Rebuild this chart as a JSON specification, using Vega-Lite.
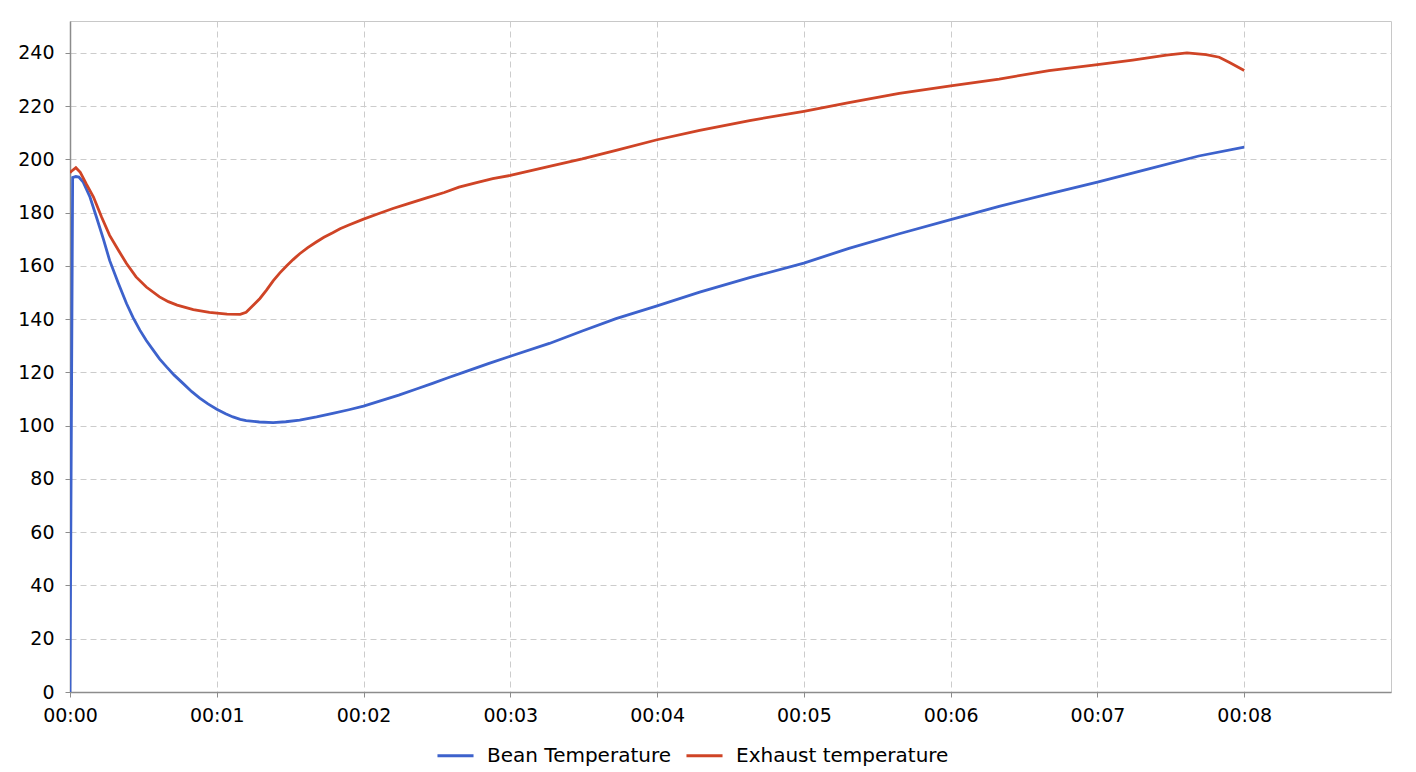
{
  "$schema": "https://vega.github.io/schema/vega-lite/v6.json",
  "autosize": {"type": "none"},
  "padding": {"left": 70, "top": 21, "right": 25, "bottom": 80},
  "width": 1321,
  "height": 671,
  "background": "white",
  "config": {
    "font": "DejaVu Sans",
    "view": {"stroke": "#c8c8c8", "strokeWidth": 1},
    "axis": {
      "labelFont": "DejaVu Sans",
      "labelFontSize": 19,
      "labelColor": "#000000",
      "domainColor": "#8c8c8c",
      "domainWidth": 1.5,
      "tickColor": "#8c8c8c",
      "tickSize": 5,
      "gridColor": "#cccccc",
      "gridDash": [6, 4],
      "gridWidth": 1,
      "title": null
    },
    "legend": {
      "labelFont": "DejaVu Sans",
      "labelFontSize": 20,
      "labelColor": "#000000",
      "labelLimit": 400
    }
  },
  "data": {
    "values": [
      {"t": 0, "v": 0, "s": "Bean Temperature"},
      {"t": 0.018, "v": 193.2, "s": "Bean Temperature"},
      {"t": 0.04, "v": 193.6, "s": "Bean Temperature"},
      {"t": 0.06, "v": 193.4, "s": "Bean Temperature"},
      {"t": 0.09, "v": 191.5, "s": "Bean Temperature"},
      {"t": 0.136, "v": 185.9, "s": "Bean Temperature"},
      {"t": 0.18, "v": 178.4, "s": "Bean Temperature"},
      {"t": 0.227, "v": 170.2, "s": "Bean Temperature"},
      {"t": 0.27, "v": 162.1, "s": "Bean Temperature"},
      {"t": 0.33, "v": 153.4, "s": "Bean Temperature"},
      {"t": 0.385, "v": 145.9, "s": "Bean Temperature"},
      {"t": 0.43, "v": 140.6, "s": "Bean Temperature"},
      {"t": 0.476, "v": 135.9, "s": "Bean Temperature"},
      {"t": 0.52, "v": 132.0, "s": "Bean Temperature"},
      {"t": 0.567, "v": 128.4, "s": "Bean Temperature"},
      {"t": 0.61, "v": 125.1, "s": "Bean Temperature"},
      {"t": 0.658, "v": 122.1, "s": "Bean Temperature"},
      {"t": 0.71, "v": 119.0, "s": "Bean Temperature"},
      {"t": 0.77, "v": 115.9, "s": "Bean Temperature"},
      {"t": 0.83, "v": 112.8, "s": "Bean Temperature"},
      {"t": 0.884, "v": 110.4, "s": "Bean Temperature"},
      {"t": 0.94, "v": 108.2, "s": "Bean Temperature"},
      {"t": 1.0, "v": 106.2, "s": "Bean Temperature"},
      {"t": 1.06, "v": 104.5, "s": "Bean Temperature"},
      {"t": 1.11, "v": 103.3, "s": "Bean Temperature"},
      {"t": 1.16, "v": 102.4, "s": "Bean Temperature"},
      {"t": 1.2, "v": 101.9, "s": "Bean Temperature"},
      {"t": 1.29, "v": 101.4, "s": "Bean Temperature"},
      {"t": 1.384, "v": 101.2, "s": "Bean Temperature"},
      {"t": 1.47, "v": 101.5, "s": "Bean Temperature"},
      {"t": 1.565, "v": 102.1, "s": "Bean Temperature"},
      {"t": 1.68, "v": 103.3, "s": "Bean Temperature"},
      {"t": 1.79, "v": 104.6, "s": "Bean Temperature"},
      {"t": 1.9, "v": 106.0, "s": "Bean Temperature"},
      {"t": 2.0, "v": 107.4, "s": "Bean Temperature"},
      {"t": 2.12, "v": 109.4, "s": "Bean Temperature"},
      {"t": 2.24, "v": 111.5, "s": "Bean Temperature"},
      {"t": 2.36, "v": 113.8, "s": "Bean Temperature"},
      {"t": 2.47, "v": 115.9, "s": "Bean Temperature"},
      {"t": 2.58, "v": 118.1, "s": "Bean Temperature"},
      {"t": 2.69, "v": 120.2, "s": "Bean Temperature"},
      {"t": 2.85, "v": 123.3, "s": "Bean Temperature"},
      {"t": 3.0, "v": 126.1, "s": "Bean Temperature"},
      {"t": 3.266, "v": 130.9, "s": "Bean Temperature"},
      {"t": 3.49, "v": 135.6, "s": "Bean Temperature"},
      {"t": 3.72, "v": 140.2, "s": "Bean Temperature"},
      {"t": 4.0, "v": 145.0, "s": "Bean Temperature"},
      {"t": 4.29, "v": 150.2, "s": "Bean Temperature"},
      {"t": 4.63, "v": 155.6, "s": "Bean Temperature"},
      {"t": 5.0, "v": 161.1, "s": "Bean Temperature"},
      {"t": 5.307, "v": 166.6, "s": "Bean Temperature"},
      {"t": 5.65, "v": 172.1, "s": "Bean Temperature"},
      {"t": 6.0, "v": 177.4, "s": "Bean Temperature"},
      {"t": 6.33, "v": 182.4, "s": "Bean Temperature"},
      {"t": 6.67, "v": 187.1, "s": "Bean Temperature"},
      {"t": 7.0, "v": 191.5, "s": "Bean Temperature"},
      {"t": 7.35, "v": 196.5, "s": "Bean Temperature"},
      {"t": 7.69, "v": 201.3, "s": "Bean Temperature"},
      {"t": 8.0, "v": 204.6, "s": "Bean Temperature"},
      {"t": 0, "v": 195.0, "s": "Exhaust temperature"},
      {"t": 0.01, "v": 195.6, "s": "Exhaust temperature"},
      {"t": 0.04, "v": 196.9, "s": "Exhaust temperature"},
      {"t": 0.07, "v": 195.2, "s": "Exhaust temperature"},
      {"t": 0.11, "v": 190.9, "s": "Exhaust temperature"},
      {"t": 0.16, "v": 185.9, "s": "Exhaust temperature"},
      {"t": 0.215, "v": 178.4, "s": "Exhaust temperature"},
      {"t": 0.27, "v": 171.5, "s": "Exhaust temperature"},
      {"t": 0.33, "v": 165.9, "s": "Exhaust temperature"},
      {"t": 0.385, "v": 160.9, "s": "Exhaust temperature"},
      {"t": 0.45, "v": 155.9, "s": "Exhaust temperature"},
      {"t": 0.52, "v": 152.1, "s": "Exhaust temperature"},
      {"t": 0.61, "v": 148.4, "s": "Exhaust temperature"},
      {"t": 0.67, "v": 146.6, "s": "Exhaust temperature"},
      {"t": 0.73, "v": 145.3, "s": "Exhaust temperature"},
      {"t": 0.84, "v": 143.6, "s": "Exhaust temperature"},
      {"t": 0.95, "v": 142.6, "s": "Exhaust temperature"},
      {"t": 1.07, "v": 141.9, "s": "Exhaust temperature"},
      {"t": 1.16, "v": 141.8, "s": "Exhaust temperature"},
      {"t": 1.2, "v": 142.6, "s": "Exhaust temperature"},
      {"t": 1.226, "v": 144.0, "s": "Exhaust temperature"},
      {"t": 1.294, "v": 147.8, "s": "Exhaust temperature"},
      {"t": 1.34, "v": 151.0, "s": "Exhaust temperature"},
      {"t": 1.384, "v": 154.4, "s": "Exhaust temperature"},
      {"t": 1.43, "v": 157.4, "s": "Exhaust temperature"},
      {"t": 1.475, "v": 160.0, "s": "Exhaust temperature"},
      {"t": 1.52, "v": 162.4, "s": "Exhaust temperature"},
      {"t": 1.565, "v": 164.6, "s": "Exhaust temperature"},
      {"t": 1.62, "v": 166.9, "s": "Exhaust temperature"},
      {"t": 1.678, "v": 169.0, "s": "Exhaust temperature"},
      {"t": 1.73, "v": 170.8, "s": "Exhaust temperature"},
      {"t": 1.79, "v": 172.5, "s": "Exhaust temperature"},
      {"t": 1.84, "v": 174.0, "s": "Exhaust temperature"},
      {"t": 1.9, "v": 175.4, "s": "Exhaust temperature"},
      {"t": 2.0, "v": 177.6, "s": "Exhaust temperature"},
      {"t": 2.1, "v": 179.6, "s": "Exhaust temperature"},
      {"t": 2.2, "v": 181.6, "s": "Exhaust temperature"},
      {"t": 2.3, "v": 183.3, "s": "Exhaust temperature"},
      {"t": 2.43, "v": 185.6, "s": "Exhaust temperature"},
      {"t": 2.55, "v": 187.6, "s": "Exhaust temperature"},
      {"t": 2.65, "v": 189.6, "s": "Exhaust temperature"},
      {"t": 2.77, "v": 191.3, "s": "Exhaust temperature"},
      {"t": 2.88, "v": 192.8, "s": "Exhaust temperature"},
      {"t": 3.0, "v": 194.0, "s": "Exhaust temperature"},
      {"t": 3.266, "v": 197.4, "s": "Exhaust temperature"},
      {"t": 3.49, "v": 200.2, "s": "Exhaust temperature"},
      {"t": 3.72, "v": 203.4, "s": "Exhaust temperature"},
      {"t": 4.0, "v": 207.4, "s": "Exhaust temperature"},
      {"t": 4.29, "v": 210.9, "s": "Exhaust temperature"},
      {"t": 4.63, "v": 214.6, "s": "Exhaust temperature"},
      {"t": 5.0, "v": 218.1, "s": "Exhaust temperature"},
      {"t": 5.307, "v": 221.3, "s": "Exhaust temperature"},
      {"t": 5.65, "v": 224.8, "s": "Exhaust temperature"},
      {"t": 6.0, "v": 227.6, "s": "Exhaust temperature"},
      {"t": 6.33, "v": 230.2, "s": "Exhaust temperature"},
      {"t": 6.67, "v": 233.4, "s": "Exhaust temperature"},
      {"t": 7.0, "v": 235.6, "s": "Exhaust temperature"},
      {"t": 7.24, "v": 237.3, "s": "Exhaust temperature"},
      {"t": 7.47, "v": 239.2, "s": "Exhaust temperature"},
      {"t": 7.61, "v": 240.0, "s": "Exhaust temperature"},
      {"t": 7.74, "v": 239.4, "s": "Exhaust temperature"},
      {"t": 7.83, "v": 238.4, "s": "Exhaust temperature"},
      {"t": 7.9, "v": 236.4, "s": "Exhaust temperature"},
      {"t": 8.0, "v": 233.4, "s": "Exhaust temperature"}
    ]
  },
  "mark": {"type": "line", "strokeWidth": 2.8, "clip": true},
  "encoding": {
    "x": {
      "field": "t",
      "type": "quantitative",
      "scale": {"domain": [0, 9], "nice": false, "zero": false},
      "axis": {
        "values": [0, 1, 2, 3, 4, 5, 6, 7, 8],
        "labelExpr": "'00:0' + datum.value",
        "labelPadding": 9,
        "labelFlush": false
      }
    },
    "y": {
      "field": "v",
      "type": "quantitative",
      "scale": {"domain": [0, 252], "nice": false},
      "axis": {
        "values": [0, 20, 40, 60, 80, 100, 120, 140, 160, 180, 200, 220, 240],
        "labelPadding": 11
      }
    },
    "color": {
      "field": "s",
      "type": "nominal",
      "scale": {
        "domain": ["Bean Temperature", "Exhaust temperature"],
        "range": ["#3d62cc", "#cf4426"]
      },
      "legend": {
        "title": null,
        "orient": "none",
        "legendX": 366,
        "legendY": 715,
        "direction": "horizontal",
        "symbolType": "stroke",
        "symbolSize": 1300,
        "symbolStrokeWidth": 2.8,
        "labelOffset": 12,
        "columnPadding": 8
      }
    }
  }
}
